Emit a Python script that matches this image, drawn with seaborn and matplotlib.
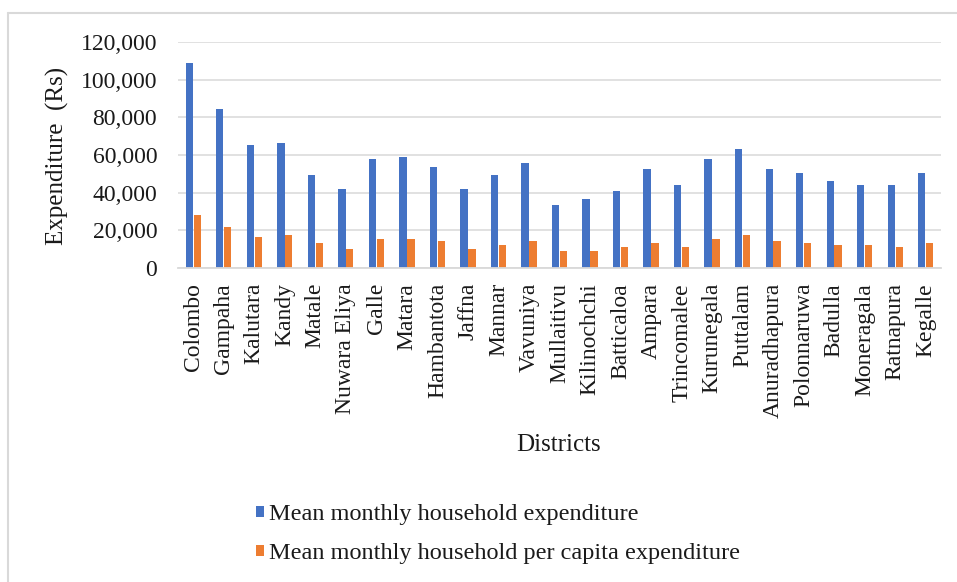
import matplotlib
matplotlib.use("Agg")
import matplotlib.pyplot as plt
from matplotlib.lines import Line2D
from matplotlib.ticker import FuncFormatter
import seaborn as sns
import pandas as pd

districts = ["Colombo", "Gampaha", "Kalutara", "Kandy", "Matale", "Nuwara Eliya",
             "Galle", "Matara", "Hambantota", "Jaffna", "Mannar", "Vavuniya",
             "Mullaitivu", "Kilinochchi", "Batticaloa", "Ampara", "Trincomalee",
             "Kurunegala", "Puttalam", "Anuradhapura", "Polonnaruwa", "Badulla",
             "Moneragala", "Ratnapura", "Kegalle"]
household_exp = [109000, 84500, 65300, 66400, 49400, 41700, 57700, 59000, 53600,
                 41700, 49400, 55600, 33200, 36400, 40700, 52400, 43900, 57700,
                 63000, 52400, 50300, 46000, 43900, 43900, 50300]
per_capita_exp = [27900, 21500, 16200, 17300, 13000, 9800, 15100, 15100, 14000,
                  9800, 11900, 14000, 8700, 8700, 10900, 13000, 10900, 15100,
                  17300, 14000, 13000, 11900, 11900, 10900, 13000]
series_names = ["Mean monthly household expenditure",
                "Mean monthly household per capita expenditure"]
y_ticks = [0, 20000, 40000, 60000, 80000, 100000, 120000]

df = pd.DataFrame({
    "District": districts * 2,
    "Expenditure": household_exp + per_capita_exp,
    "Series": [series_names[0]] * len(districts) + [series_names[1]] * len(districts),
})

sns.set_theme(style="white")
plt.rcParams["font.family"] = ["Liberation Serif", "DejaVu Serif"]

fig = plt.figure(figsize=(9.57, 5.82), dpi=100)
ax = fig.add_axes([178 / 957, 1 - 267.7 / 582, (941 - 178) / 957, (267.7 - 42.3) / 582])

sns.barplot(data=df, x="District", y="Expenditure", hue="Series",
            hue_order=series_names, order=districts,
            palette=["#4472C4", "#ED7D31"], saturation=1, width=0.52, gap=0.08,
            linewidth=0, ax=ax, legend=True)

ax.set_ylim(0, 120000)
ax.set_yticks(y_ticks)
ax.yaxis.set_major_formatter(FuncFormatter(lambda v, p: f"{int(v):,}"))
ax.set_xlim(-0.5, len(districts) - 0.5)
ax.grid(axis="y", color="#d9d9d9", linewidth=1.1)
ax.set_axisbelow(True)
for side in ["top", "right", "left"]:
    ax.spines[side].set_visible(False)
ax.spines["bottom"].set_color("#d9d9d9")
ax.spines["bottom"].set_linewidth(1.3)
ax.tick_params(axis="x", length=0, pad=11, labelsize=17, labelrotation=90, colors="#1a1a1a")
ax.tick_params(axis="y", length=0, pad=15, labelsize=17, colors="#1a1a1a")
for lab in ax.get_xticklabels():
    lab.set_verticalalignment("top")
ax.set_xlabel("")
ax.set_ylabel("")

fig.text(57 / 957, 1 - 156 / 582, "Expenditure  (Rs)", rotation=90,
         ha="center", va="center", fontsize=18, color="#1a1a1a")
fig.text(559 / 957, 1 - 445 / 582, "Districts", ha="center", va="center",
         fontsize=18, color="#1a1a1a")

handles, labels = ax.get_legend_handles_labels()
ax.get_legend().remove()
fig.legend(handles, labels, loc="center left",
           bbox_to_anchor=(244 / 957, 1 - 534 / 582), frameon=False,
           fontsize=17.5, handlelength=0.33, handleheight=0.33,
           handletextpad=0.2, labelspacing=0.75, borderpad=0,
           labelcolor="#1a1a1a")

# light frame along the top and left edges
fig.add_artist(Line2D([8 / 957, 1], [1 - 13 / 582, 1 - 13 / 582],
                      transform=fig.transFigure, color="#d9d9d9", linewidth=1.5))
fig.add_artist(Line2D([8 / 957, 8 / 957], [0, 1 - 13 / 582],
                      transform=fig.transFigure, color="#d9d9d9", linewidth=1.5))

fig.savefig("out.png", dpi=100)
